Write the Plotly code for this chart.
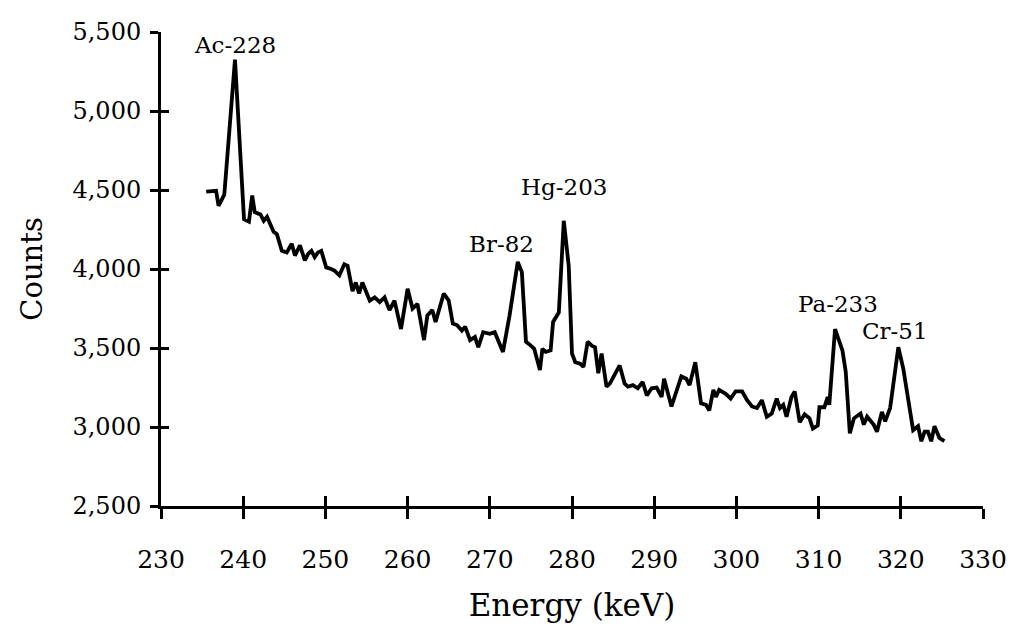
import plotly.graph_objects as go

energy_kev = [235.5, 236.7, 237.0, 237.7, 239.0, 240.1, 240.7, 241.1, 241.4, 242.1,
              242.5, 242.9, 243.7, 244.1, 244.7, 245.3, 245.9, 246.3, 246.9, 247.5,
              247.9, 248.3, 248.7, 249.1, 249.5, 250.1, 250.7, 251.1, 251.7, 252.3,
              252.7, 253.3, 253.7, 254.1, 254.5, 255.0, 255.4, 256.0, 256.6, 257.2,
              257.8, 258.4, 259.2, 260.0, 260.6, 261.2, 262.0, 262.4, 263.0, 263.4,
              264.4, 265.0, 265.5, 266.0, 266.6, 267.0, 267.6, 268.2, 268.6, 269.2,
              270.0, 270.6, 271.6, 272.4, 273.0, 273.4, 273.9, 274.4, 275.0, 275.4,
              276.1, 276.4, 276.8, 277.4, 277.7, 278.4, 279.0, 279.6, 280.0, 280.4,
              281.0, 281.4, 281.9, 282.4, 282.8, 283.2, 283.6, 284.2, 284.6, 285.2,
              285.8, 286.4, 286.8, 287.4, 288.0, 288.6, 289.1, 289.7, 290.3, 290.9,
              291.2, 292.1, 293.3, 293.9, 294.3, 295.0, 295.7, 296.3, 296.7, 297.2,
              297.5, 297.9, 298.7, 299.3, 299.9, 300.7, 301.3, 301.9, 302.5, 303.1,
              303.7, 304.3, 304.9, 305.3, 305.7, 306.1, 306.7, 307.1, 307.7, 308.3,
              308.9, 309.3, 309.9, 310.1, 310.7, 311.1, 311.3, 312.0, 312.9, 313.3,
              313.8, 314.3, 315.1, 315.5, 315.9, 316.7, 317.1, 317.7, 318.1, 318.7,
              319.7, 320.3, 321.1, 321.5, 322.1, 322.5, 322.9, 323.3, 323.7, 324.1,
              324.7, 325.3]

counts = [4490, 4495, 4400, 4470, 5325, 4315, 4300, 4465, 4360, 4345,
          4305, 4330, 4235, 4220, 4115, 4105, 4160, 4085, 4150, 4055,
          4095, 4115, 4075, 4105, 4115, 4010, 4000, 3990, 3960, 4030,
          4020, 3860, 3915, 3845, 3915, 3855, 3800, 3820, 3790, 3820,
          3740, 3800, 3620, 3875, 3750, 3780, 3550, 3705, 3740, 3665,
          3845, 3800, 3655, 3645, 3610, 3635, 3550, 3570, 3505, 3600,
          3590, 3600, 3475, 3705, 3895, 4045, 3980, 3540, 3515, 3495,
          3360, 3495, 3475, 3485, 3665, 3725, 4305, 4020, 3465, 3410,
          3400, 3380, 3540, 3515, 3505, 3340, 3465, 3255, 3275, 3330,
          3390, 3275, 3255, 3265, 3245, 3285, 3200, 3245, 3250, 3190,
          3305, 3130, 3320, 3305, 3265, 3410, 3150, 3140, 3105, 3235,
          3190, 3235, 3210, 3180, 3225, 3225, 3170, 3130, 3120, 3170,
          3065, 3085, 3180, 3120, 3140, 3065, 3190, 3225, 3030, 3080,
          3055, 2990, 3010, 3125, 3125, 3190, 3140, 3620, 3485, 3350,
          2960, 3055, 3085, 3015, 3065, 3015, 2970, 3095, 3035, 3120,
          3505, 3370, 3085, 2980, 3005, 2910, 2970, 2970, 2910, 3005,
          2930, 2910]

peak_labels = ["Ac-228", "Br-82", "Hg-203", "Pa-233", "Cr-51"]
peak_label_x = [239.0, 271.4, 279.0, 312.3, 319.3]
peak_label_y = [5420, 4160, 4520, 3780, 3610]

x_ticks = list(range(230, 331, 10))
y_ticks = list(range(2500, 5501, 500))

assert len(energy_kev) == len(counts)

FONT = "DejaVu Serif"

fig = go.Figure()
fig.add_trace(go.Scatter(
    x=energy_kev, y=counts, mode="lines",
    line=dict(color="black", width=3.8), hoverinfo="x+y", showlegend=False))
# invisible helper trace to make the crossing-tick overlay axes render
fig.add_trace(go.Scatter(
    x=energy_kev[:1], y=counts[:1], mode="markers", marker=dict(opacity=0),
    xaxis="x2", yaxis="y2", hoverinfo="skip", showlegend=False))

for txt, lx, ly in zip(peak_labels, peak_label_x, peak_label_y):
    fig.add_annotation(x=lx, y=ly, text=txt, showarrow=False,
                       font=dict(family=FONT, size=23, color="black"),
                       xanchor="center", yanchor="middle")

axis_common = dict(showgrid=False, zeroline=False, linecolor="black",
                   tickcolor="black", tickwidth=2.5)

fig.update_layout(
    width=1019, height=630,
    margin=dict(l=161, r=27, t=32, b=122),
    paper_bgcolor="white", plot_bgcolor="white",
    separators=".,",
    font=dict(family=FONT, color="black"),
    xaxis=dict(range=[230, 330], tickvals=x_ticks, ticks="outside", ticklen=10,
               showline=True, linewidth=3, tickfont=dict(size=25),
               ticklabelstandoff=19,
               title=dict(text="Energy (keV)", font=dict(size=31), standoff=22),
               **axis_common),
    yaxis=dict(range=[2500, 5500], tickvals=y_ticks, tickformat=",d",
               ticks="outside", ticklen=8, showline=True, linewidth=3,
               tickfont=dict(size=24), ticklabelstandoff=4,
               title=dict(text="Counts", font=dict(size=29), standoff=22),
               **axis_common),
    xaxis2=dict(range=[230, 330], tickvals=x_ticks, ticks="inside", ticklen=10,
                overlaying="x", anchor="y", side="bottom", showline=False,
                showticklabels=False, **axis_common),
    yaxis2=dict(range=[2500, 5500], tickvals=y_ticks, ticks="inside", ticklen=8,
                overlaying="y", anchor="x", side="left", showline=False,
                showticklabels=False, **axis_common),
)

fig.write_html("out.html")
